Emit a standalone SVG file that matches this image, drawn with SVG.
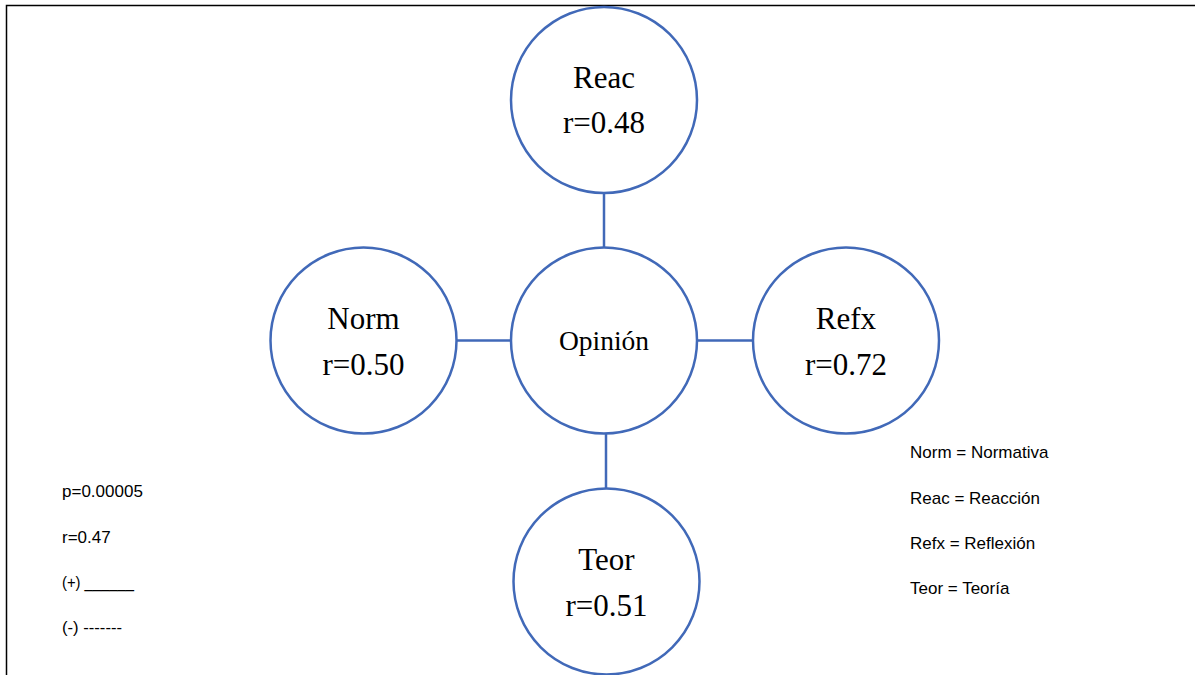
<svg xmlns="http://www.w3.org/2000/svg" width="1195" height="675" viewBox="0 0 1195 675">
  <style>
    .node { fill: #ffffff; stroke: #4169B8; stroke-width: 2.5; }
    .edge { stroke: #4169B8; stroke-width: 2.5; fill: none; }
    .lbl { font-family: "Liberation Serif", "Times New Roman", serif; font-size: 31px; fill: #000; text-anchor: middle; }
    .center { font-family: "Liberation Serif", "Times New Roman", serif; font-size: 27.5px; fill: #000; text-anchor: middle; }
    .key { font-family: "Liberation Sans", Arial, sans-serif; font-size: 17px; fill: #000; }
    .frame { stroke: #000; stroke-width: 1.5; fill: none; }
  </style>

  <rect width="1195" height="675" fill="#ffffff"/>

  <!-- page frame: top and left rules -->
  <path class="frame" d="M6.5 675 V5.5 H1195"/>

  <!-- connectors between the central node and its four neighbours -->
  <g id="connectors">
    <line class="edge" x1="604" y1="193" x2="604" y2="247.5"/>
    <line class="edge" x1="457" y1="340.5" x2="511" y2="340.5"/>
    <line class="edge" x1="697" y1="340.5" x2="753" y2="340.5"/>
    <line class="edge" x1="606" y1="434" x2="606" y2="489"/>
  </g>

  <g id="node-reac">
    <circle class="node" cx="604" cy="100" r="93"/>
    <text class="lbl" x="604" y="87.5">Reac</text>
    <text class="lbl" x="604" y="133">r=0.48</text>
  </g>

  <g id="node-opinion">
    <circle class="node" cx="604" cy="340.5" r="93"/>
    <text class="center" x="604" y="350">Opinión</text>
  </g>

  <g id="node-norm">
    <circle class="node" cx="363.5" cy="340.5" r="93"/>
    <text class="lbl" x="363.5" y="328.5">Norm</text>
    <text class="lbl" x="363.5" y="374.5">r=0.50</text>
  </g>

  <g id="node-refx">
    <circle class="node" cx="846" cy="340.5" r="93"/>
    <text class="lbl" x="846" y="328.5">Refx</text>
    <text class="lbl" x="846" y="374.5">r=0.72</text>
  </g>

  <g id="node-teor">
    <circle class="node" cx="606.5" cy="581.5" r="93"/>
    <text class="lbl" x="606.5" y="570">Teor</text>
    <text class="lbl" x="606.5" y="616">r=0.51</text>
  </g>

  <!-- statistics key -->
  <g id="stats-key">
    <text class="key" x="62" y="497">p=0.00005</text>
    <text class="key" x="62" y="542.5">r=0.47</text>
    <text class="key" x="62" y="588" textLength="72" lengthAdjust="spacingAndGlyphs">(+) ______</text>
    <text class="key" x="62" y="633" textLength="60" lengthAdjust="spacingAndGlyphs">(-) -------</text>
  </g>

  <!-- abbreviation key -->
  <g id="abbrev-key">
    <text class="key" x="910" y="457.5">Norm = Normativa</text>
    <text class="key" x="910" y="503.5">Reac = Reacción</text>
    <text class="key" x="910" y="548.5">Refx = Reflexión</text>
    <text class="key" x="910" y="593.5">Teor = Teoría</text>
  </g>
</svg>
